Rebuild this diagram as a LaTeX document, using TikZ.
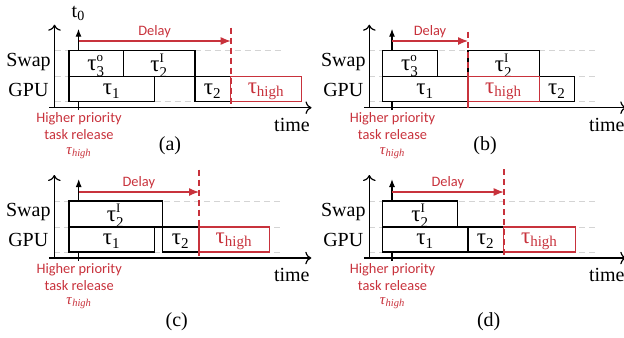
\documentclass[tikz,border=0pt]{standalone}
\usepackage{amsmath}
\usepackage{fontspec}
\setmainfont{Liberation Serif}
\newfontfamily\calfont{Carlito}
\usepackage{xcolor}
\usepackage{tikz}
\usetikzlibrary{arrows.meta}

\definecolor{relred}{RGB}{200,50,60}
\definecolor{gridgray}{RGB}{212,212,212}

\tikzset{
    task/.style={draw=black, fill=white, line width=0.6pt, inner sep=0pt, font=\fontsize{11.5}{13}\selectfont},
    hightask/.style={draw=relred, fill=white, line width=0.6pt, inner sep=0pt, text=relred, font=\fontsize{11.5}{13}\selectfont},
    guide/.style={gridgray, line width=0.4pt, dash pattern=on 3pt off 2pt},
    axis/.style={line width=0.6pt, -{To[length=3pt]}},
    release/.style={line width=0.6pt, -{Latex[length=4pt, width=3pt]}},
    deadline/.style={relred, line width=0.9pt, dash pattern=on 3pt off 2pt},
    delayarrow/.style={relred, line width=0.6pt, -{Latex[length=5pt, width=4pt]}},
    redlabel/.style={text=relred, font=\calfont\fontsize{7.2}{8.5}\selectfont},
}
\newcommand{\subsz}[1]{\text{\fontsize{7.5}{8}\selectfont #1}}
\newcommand{\supsz}[1]{\text{\fontsize{6.5}{7}\selectfont #1}}
\newcommand{\tk}[1]{τ$_{\subsz{#1}}$}
\newcommand{\tkio}[2]{τ$^{\supsz{#2}}_{\subsz{#1}}$}

\begin{document}
\begin{tikzpicture}[x=0.5pt, y=0.5pt, font=\fontsize{10}{12}\selectfont]
    \useasboundingbox (0,0) rectangle (624,-337);

    % axes, guides and labels shared by the four panels
    \foreach \p/\ox/\oy/\tx in {a/54.5/-107.7/24, b/369.3/-107.7/22.7, c/54.3/-258/24.4, d/369.3/-258/22.7} {
        \begin{scope}[shift={(\ox,\oy)}]
            \foreach \y in {57, 31, 6}
                \draw[guide] (0,\y) -- (228,\y);
            \coordinate (\p-xl) at (-5.5,0);
            \coordinate (\p-xr) at (257,0);
            \coordinate (\p-yb) at (0,0);
            \coordinate (\p-yt) at (0,83);
            \coordinate (\p-tb) at (\tx,-2.5);
            \coordinate (\p-tt) at (\tx,79);
            \draw[axis] (\p-xl) -- (\p-xr);
            \draw[axis] (\p-yb) -- (\p-yt);
            \draw[release] (\p-tb) -- (\p-tt);
            \node (\p-swap) at (-26,46) {Swap};
            \node (\p-gpu) at (-26,17.7) {GPU};
            \node (\p-time) at (237.5,-17.3) {time};
            \node[redlabel, align=center] (\p-hp) at (\tx+0.5,-18.8) {Higher priority\\task release};
            \node[text=relred, font=\fontsize{7.5}{9}\selectfont] (\p-th) at (\tx+0.5,-45.3) {\textit{τ}\textsubscript{\textit{high}}};
        \end{scope}
    }

    % (a)
    \begin{scope}[shift={(54.5,-107.7)}]
        \draw[task] (14.5,31) rectangle node[yshift=-1pt] (a-s3) {\tkio{3}{o}} (69.2,57);
        \draw[task] (69.2,31) rectangle node[yshift=-1pt] (a-s2) {\tkio{2}{I}} (140.5,57);
        \draw[task] (14.5,6) rectangle node[yshift=-1pt] (a-g1) {\tk{1}} (99.8,31);
        \draw[task] (140.5,6) rectangle node[yshift=-1pt] (a-g2) {\tk{2}} (176.2,31);
        \draw[hightask] (176.2,6) rectangle node[yshift=-1pt] (a-gh) {\tk{high}} (247.2,31);
        \coordinate (a-dt) at (176.2,80);
        \coordinate (a-db) at (176.2,0);
        \draw[deadline] (a-dt) -- (a-db);
        \coordinate (a-rel) at (24,66.7);
        \coordinate (a-due) at (176.2,66.7);
        \draw[delayarrow] (a-rel) -- (a-due) node[redlabel, midway, yshift=4.5pt] (a-delay) {Delay};
        \node (a-t0) at (24,94.7) {t\textsubscript{0}};
        \node (a-cap) at (115.5,-38.3) {(a)};
    \end{scope}

    % (b)
    \begin{scope}[shift={(369.3,-107.7)}]
        \draw[task] (13.4,31) rectangle node[yshift=-1pt] (b-s3) {\tkio{3}{o}} (68,57);
        \draw[task] (98.7,31) rectangle node[yshift=-1pt] (b-s2) {\tkio{2}{I}} (170,57);
        \draw[task] (13.4,6) rectangle node[yshift=-1pt] (b-g1) {\tk{1}} (98.7,31);
        \draw[task] (170,6) rectangle node[yshift=-1pt] (b-g2) {\tk{2}} (205.4,31);
        \draw[hightask] (98.7,6) rectangle node[yshift=-1pt] (b-gh) {\tk{high}} (170,31);
        \coordinate (b-dt) at (98.7,76);
        \coordinate (b-db) at (98.7,-2.5);
        \draw[deadline, line width=0.6pt] (b-dt) -- (b-db);
        \coordinate (b-rel) at (22.7,66.7);
        \coordinate (b-due) at (98.7,66.7);
        \draw[delayarrow] (b-rel) -- (b-due) node[redlabel, midway, yshift=4.5pt] (b-delay) {Delay};
        \node (b-cap) at (115.7,-38.3) {(b)};
    \end{scope}

    % (c)
    \begin{scope}[shift={(54.3,-258)}]
        \draw[task] (14.7,31) rectangle node[yshift=-1pt] (c-s2) {\tkio{2}{I}} (108,57);
        \draw[task] (14.7,6) rectangle node[yshift=-1pt] (c-g1) {\tk{1}} (100,31);
        \draw[task] (108,6) rectangle node[yshift=-1pt] (c-g2) {\tk{2}} (144.7,31);
        \draw[hightask] (144.7,6) rectangle node[yshift=-1pt] (c-gh) {\tk{high}} (215,31);
        \coordinate (c-dt) at (144.7,88.3);
        \coordinate (c-db) at (144.7,0);
        \draw[deadline] (c-dt) -- (c-db);
        \coordinate (c-rel) at (24.4,66);
        \coordinate (c-due) at (144.7,66);
        \draw[delayarrow] (c-rel) -- (c-due) node[redlabel, midway, yshift=4.5pt] (c-delay) {Delay};
        \node (c-cap) at (122.4,-63.3) {(c)};
    \end{scope}

    % (d)
    \begin{scope}[shift={(369.3,-258)}]
        \draw[task] (13.4,31) rectangle node[yshift=-1pt] (d-s2) {\tkio{2}{I}} (88.4,57);
        \draw[task] (13.4,6) rectangle node[yshift=-1pt] (d-g1) {\tk{1}} (98.7,31);
        \draw[task] (98.7,6) rectangle node[yshift=-1pt] (d-g2) {\tk{2}} (134.4,31);
        \draw[hightask] (134.4,6) rectangle node[yshift=-1pt] (d-gh) {\tk{high}} (206,31);
        \coordinate (d-dt) at (134.4,89);
        \coordinate (d-db) at (134.4,0);
        \draw[deadline] (d-dt) -- (d-db);
        \coordinate (d-rel) at (22.7,66);
        \coordinate (d-due) at (134.4,66);
        \draw[delayarrow] (d-rel) -- (d-due) node[redlabel, midway, yshift=4.5pt] (d-delay) {Delay};
        \node (d-cap) at (119.4,-63.3) {(d)};
    \end{scope}
\end{tikzpicture}
\end{document}
